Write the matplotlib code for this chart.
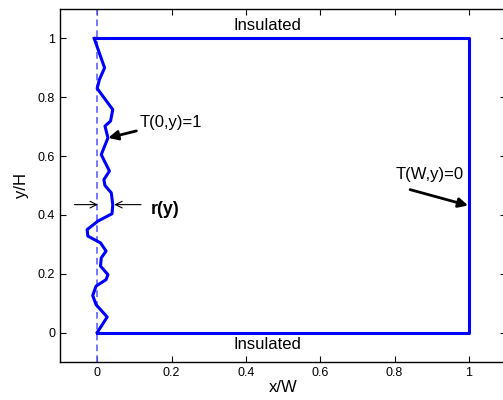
import matplotlib
matplotlib.use("Agg")
import matplotlib.pyplot as plt
import numpy as np

plt.rcParams['font.family'] = ['Liberation Sans', 'DejaVu Sans']

# wavy left boundary r(y)
r_x = [-0.008, 0.020, 0.006, 0.000, 0.042, 0.036, 0.021, 0.029, 0.011, 0.033,
       0.018, 0.021, 0.038, 0.042, 0.040, 0.002, -0.027, -0.025, 0.009, 0.024,
       0.011, 0.009, 0.029, 0.024, -0.003, -0.012, -0.003, 0.027, 0.002, 0.0]
r_y = [1.000, 0.900, 0.860, 0.830, 0.758, 0.719, 0.702, 0.662, 0.605, 0.549,
       0.520, 0.500, 0.475, 0.435, 0.404, 0.379, 0.350, 0.328, 0.305, 0.277,
       0.254, 0.226, 0.197, 0.180, 0.158, 0.126, 0.095, 0.053, 0.004, 0.0]

# rest of the domain outline
box_x = [0.0, 1.0, 1.0, -0.008]
box_y = [0.0, 0.0, 1.0, 1.0]

xticks = [0, 0.2, 0.4, 0.6, 0.8, 1]
yticks = [0, 0.2, 0.4, 0.6, 0.8, 1]

fig = plt.figure(figsize=(5.03, 4.0), dpi=100)
ax = fig.add_axes([60/503, 38/400, 446/503, 353/400])

blue = '#0000ff'
ax.plot([0, 0], [-0.1, 1.1], color='#6060ff', lw=1.2, dashes=(4, 2.5))
ax.plot(r_x, r_y, color=blue, lw=2.2, solid_joinstyle='round')
ax.plot(box_x, box_y, color=blue, lw=2.2)

ax.set_xlim(-0.1, 1.1)
ax.set_ylim(-0.1, 1.1)
ax.set_xticks(xticks)
ax.set_yticks(yticks)
ax.set_xticklabels(['0', '0.2', '0.4', '0.6', '0.8', '1'])
ax.set_yticklabels(['0', '0.2', '0.4', '0.6', '0.8', '1'])
ax.tick_params(direction='in', top=True, right=True, length=4, labelsize=9)
for s in ax.spines.values():
    s.set_linewidth(1.0)

ax.set_xlabel('x/W', fontsize=12, labelpad=1)
ax.set_ylabel('y/H', fontsize=12, labelpad=6)

ax.text(0.457, 1.043, 'Insulated', fontsize=12, ha='center', va='center')
ax.text(0.457, -0.042, 'Insulated', fontsize=12, ha='center', va='center')

ax.annotate('T(0,y)=1', xy=(0.030, 0.662), xytext=(0.113, 0.714),
            fontsize=12, va='center', ha='left',
            arrowprops=dict(arrowstyle='-|>', color='k', lw=2,
                            mutation_scale=14, shrinkA=0, shrinkB=0))
ax.annotate('', xy=(0.998, 0.432), xytext=(0.842, 0.486),
            arrowprops=dict(arrowstyle='-|>', color='k', lw=2,
                            mutation_scale=14, shrinkA=0, shrinkB=0))
ax.text(0.802, 0.538, 'T(W,y)=0', fontsize=12, va='center', ha='left')

ax.annotate('', xy=(0.002, 0.435), xytext=(-0.061, 0.435),
            arrowprops=dict(arrowstyle='->', color='k', lw=0.8,
                            mutation_scale=12, shrinkA=0, shrinkB=0))
ax.annotate('', xy=(0.046, 0.435), xytext=(0.118, 0.435),
            arrowprops=dict(arrowstyle='->', color='k', lw=0.8,
                            mutation_scale=12, shrinkA=0, shrinkB=0))
ax.text(0.145, 0.418, 'r(y)', fontsize=13, fontweight='bold',
        va='center', ha='left')

fig.savefig('out.png', dpi=100)
